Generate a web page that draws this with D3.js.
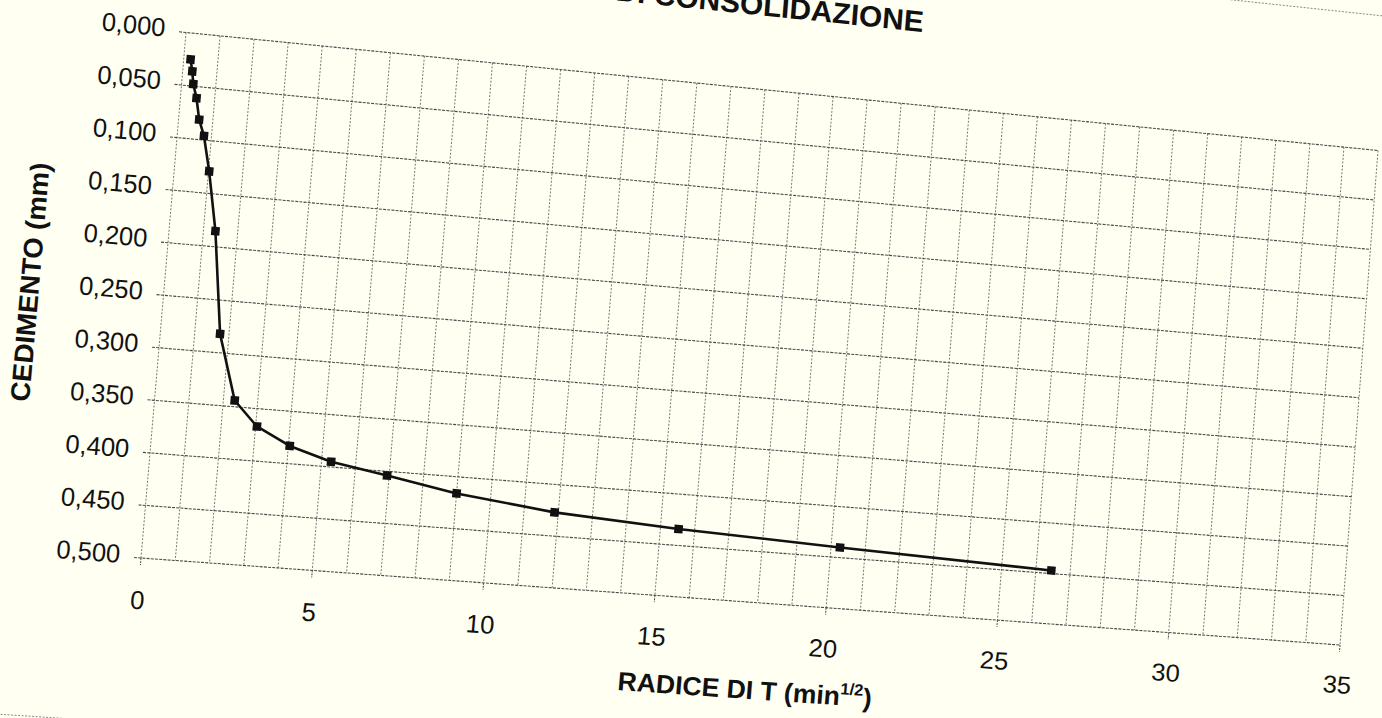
<!DOCTYPE html>
<html>
<head>
<meta charset="utf-8">
<script src="https://cdn.jsdelivr.net/npm/d3@7"></script>
<style>
  html, body { margin: 0; padding: 0; width: 1382px; height: 718px; overflow: hidden; background: #fffff2; }
  svg { position: absolute; left: 0; top: 0; }
  text { font-family: "Liberation Sans", Arial, Helvetica, sans-serif; fill: #111; }
</style>
</head>
<body>
<script>
// Consolidation test readings: square root of time (min^1/2) and settlement (mm)
const sqrtT      = [0.20, 0.28, 0.34, 0.47, 0.60, 0.78, 1.02, 1.35, 1.74, 2.33, 3.04, 4.04, 5.28, 6.94, 9.00, 11.89, 15.53, 20.26, 26.45];
const settlement = [0.025, 0.036, 0.048, 0.061, 0.081, 0.096, 0.129, 0.185, 0.282, 0.344, 0.367, 0.383, 0.395, 0.404, 0.416, 0.427, 0.434, 0.440, 0.447];

const xTickValues = [0, 5, 10, 15, 20, 25, 30, 35];
const yTickValues = [0, 0.05, 0.10, 0.15, 0.20, 0.25, 0.30, 0.35, 0.40, 0.45, 0.50];

const chartTitle = "CURVA DI CONSOLIDAZIONE";
const xTitleMain = "RADICE DI T (min";
const xTitleSup  = "1/2";
const xTitleEnd  = ")";
const yTitle     = "CEDIMENTO (mm)";

// Flat plot size; the printed sheet is then laid onto its tilted, slightly
// bent outline on the scanned page with a bilinear warp.
const W = 1200, H = 520;
const TL = [186, 32.5], TR = [1378, 150.5], BR = [1340, 645], BL = [141, 558];
const A = [TR[0] - TL[0], TR[1] - TL[1]];
const B = [BL[0] - TL[0], BL[1] - TL[1]];
const C = [TL[0] - TR[0] + BR[0] - BL[0], TL[1] - TR[1] + BR[1] - BL[1]];

function warp(X, Y) {
  const u = X / W, v = Y / H;
  return [TL[0] + u * A[0] + v * B[0] + u * v * C[0],
          TL[1] + u * A[1] + v * B[1] + u * v * C[1]];
}
// local affine frame of the warp at a flat point (used for text and markers)
function frame(X, Y) {
  const u = X / W, v = Y / H, p = warp(X, Y);
  const a = (A[0] + v * C[0]) / W, b = (A[1] + v * C[1]) / W;
  const c = (B[0] + u * C[0]) / H, d = (B[1] + u * C[1]) / H;
  return `matrix(${a},${b},${c},${d},${p[0]},${p[1]})`;
}
function seg(X1, Y1, X2, Y2) {
  const p = warp(X1, Y1), q = warp(X2, Y2);
  return `M${p[0]},${p[1]}L${q[0]},${q[1]}`;
}

const svg = d3.select("body").append("svg")
  .attr("width", 1382).attr("height", 718);

const x = d3.scaleLinear().domain([0, 35]).range([0, W]);
const y = d3.scaleLinear().domain([0, 0.5]).range([0, H]);

const itLocale = d3.formatLocale({ decimal: ",", thousands: ".", grouping: [3], currency: ["€", ""] });
const fmtY = itLocale.format(".3f");

// Outer chart frame
const fx0 = -0.2 * W, fx1 = 1.08 * W, fy0 = -0.271 * H, fy1 = 1.313 * H;
svg.append("path")
  .attr("d", seg(fx0, fy0, fx1, fy0) + seg(fx1, fy0, fx1, fy1) + seg(fx1, fy1, fx0, fy1) + seg(fx0, fy1, fx0, fy0))
  .attr("fill", "none").attr("stroke", "#8a8a8a").attr("stroke-width", 1)
  .attr("stroke-dasharray", "2,1.5");

// Title
svg.append("g").attr("transform", frame(0.6132 * W, -0.144 * H))
  .append("text")
  .attr("text-anchor", "end")
  .style("font-size", "30px").style("font-weight", "bold")
  .text(chartTitle);

// Vertical grid, one line per unit
svg.append("g").selectAll("path")
  .data(d3.range(0, 36))
  .join("path")
  .attr("d", d => seg(x(d), 0, x(d), H))
  .attr("stroke", "#777").attr("stroke-width", 1)
  .attr("stroke-dasharray", "2,1.6");

// Horizontal grid, one line per 0,050 mm, with the axis tick in front
svg.append("g").selectAll("path")
  .data(yTickValues)
  .join("path")
  .attr("d", d => seg(-7, y(d), W, y(d)))
  .attr("stroke", "#4a4a4a").attr("stroke-width", 1.1)
  .attr("stroke-dasharray", "3,1.2");

// X axis ticks
svg.append("g").selectAll("path")
  .data(xTickValues)
  .join("path")
  .attr("d", d => seg(x(d), H, x(d), H + 7))
  .attr("stroke", "#4a4a4a").attr("stroke-width", 1)
  .attr("stroke-dasharray", "2,1");

// Y tick labels
svg.append("g").selectAll("g")
  .data(yTickValues)
  .join("g")
  .attr("transform", d => frame(-21, y(d)))
  .append("text")
  .attr("text-anchor", "end").attr("dy", "0.24em")
  .style("font-size", "25.5px")
  .text(d => fmtY(d));

// X tick labels
svg.append("g").selectAll("g")
  .data(xTickValues)
  .join("g")
  .attr("transform", d => frame(x(d), 1.08 * H))
  .append("text")
  .attr("text-anchor", "middle").attr("dy", "0.35em")
  .style("font-size", "25.5px")
  .text(d => d);

// Axis titles
svg.append("g").attr("transform", frame(-0.1118 * W, 0.4966 * H))
  .append("text")
  .attr("transform", "rotate(-90)")
  .attr("text-anchor", "middle").attr("dy", "0.35em")
  .style("font-size", "27px").style("font-weight", "bold")
  .text(yTitle);

const xt = svg.append("g").attr("transform", frame(0.4037 * W, 1.189 * H))
  .append("text")
  .attr("text-anchor", "start")
  .style("font-size", "26.5px").style("font-weight", "bold");
xt.append("tspan").text(xTitleMain);
xt.append("tspan").attr("dy", -11).style("font-size", "16.5px").text(xTitleSup);
xt.append("tspan").attr("dy", 11).text(xTitleEnd);

// Settlement curve
const pts = sqrtT.map((t, i) => [t, settlement[i]]);
svg.append("path")
  .datum(pts)
  .attr("fill", "none").attr("stroke", "#111").attr("stroke-width", 2.6)
  .attr("stroke-linejoin", "round")
  .attr("d", d3.line()
    .x(d => warp(x(d[0]), y(d[1]))[0])
    .y(d => warp(x(d[0]), y(d[1]))[1]));

const ms = 8.5;
svg.append("g").selectAll("g")
  .data(pts)
  .join("g")
  .attr("transform", d => frame(x(d[0]), y(d[1])))
  .append("rect")
  .attr("x", -ms / 2).attr("y", -ms / 2)
  .attr("width", ms).attr("height", ms)
  .attr("fill", "#111");
</script>
</body>
</html>
